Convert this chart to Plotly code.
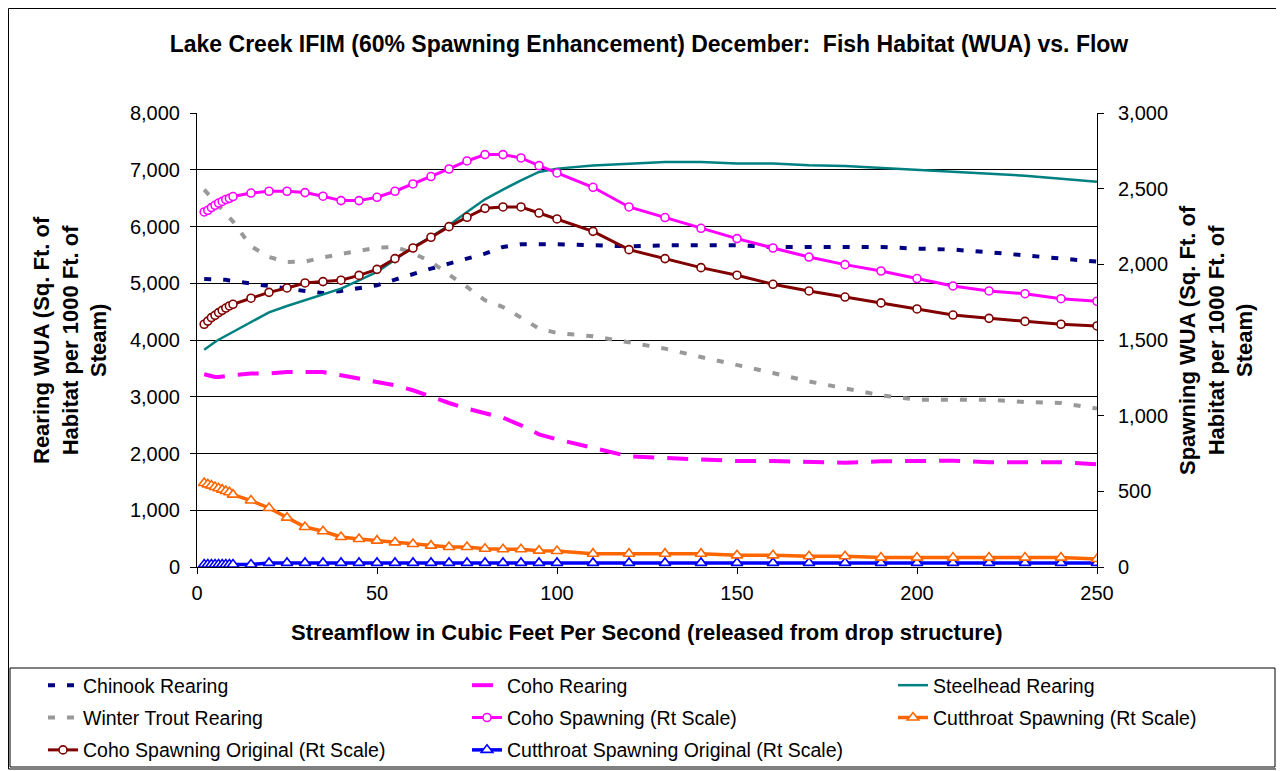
import plotly.graph_objects as go

# streamflow (cfs) at which WUA was computed
flows = [2, 3, 4, 5, 6, 7, 8, 9, 10, 15, 20, 25, 30, 35, 40, 45, 50, 55, 60, 65, 70,
         75, 80, 85, 90, 95, 100, 110, 120, 130, 140, 150, 160, 170, 180, 190, 200,
         210, 220, 230, 240, 250]

# rearing WUA (left scale)
chinook_rearing = [5075, 5075, 5075, 5075, 5070, 5065, 5060, 5050, 5040, 4993, 4952, 4905,
                   4864, 4828, 4864, 4905, 4963, 5064, 5170, 5258, 5346, 5434, 5522, 5639,
                   5687, 5687, 5687, 5669, 5651, 5669, 5669, 5669, 5639, 5639, 5639, 5639,
                   5610, 5593, 5546, 5493, 5446, 5381]
coho_rearing = [3396, 3380, 3360, 3348, 3350, 3360, 3370, 3375, 3378, 3408, 3408, 3436,
                3442, 3436, 3378, 3320, 3260, 3202, 3114, 2996, 2890, 2791, 2703, 2630,
                2497, 2338, 2250, 2104, 1950, 1921, 1903, 1868, 1868, 1850, 1839, 1862,
                1874, 1874, 1845, 1845, 1845, 1810]
steelhead_rearing = [3830, 3880, 3925, 3965, 4005, 4040, 4075, 4105, 4135, 4320, 4488, 4600,
                     4700, 4800, 4905, 5052, 5198, 5416, 5639, 5815, 6021, 6256, 6479, 6650,
                     6814, 6961, 7020, 7073, 7108, 7137, 7137, 7108, 7108, 7079, 7066, 7031,
                     7002, 6972, 6925, 6896, 6843, 6790]
winter_trout_rearing = [6650, 6580, 6509, 6439, 6368, 6298, 6227, 6157, 6086, 5651, 5463, 5375,
                        5381, 5457, 5510, 5568, 5628, 5639, 5533, 5375, 5158, 4934, 4700, 4581,
                        4394, 4201, 4124, 4065, 3960, 3848, 3700, 3566, 3419, 3270, 3143, 3026,
                        2949, 2949, 2949, 2908, 2890, 2791]

# spawning WUA (right scale)
coho_spawning = [2346, 2357, 2375, 2390, 2405, 2416, 2428, 2436, 2448, 2471, 2483, 2483,
                 2474, 2450, 2421, 2421, 2443, 2483, 2531, 2580, 2630, 2683, 2725, 2725,
                 2703, 2652, 2604, 2509, 2379, 2309, 2238, 2170, 2108, 2048, 1998, 1956,
                 1906, 1857, 1824, 1806, 1773, 1756]
cutthroat_spawning = [555, 546, 538, 529, 520, 511, 502, 494, 478, 439, 390, 326, 264, 236,
                      198, 185, 174, 163, 152, 141, 132, 132, 121, 117, 117, 108, 106, 88,
                      88, 88, 88, 77, 77, 71, 71, 62, 62, 62, 62, 62, 62, 53]
coho_spawning_orig = [1604, 1625, 1648, 1663, 1681, 1696, 1711, 1725, 1736, 1776, 1815, 1844,
                      1877, 1886, 1895, 1927, 1967, 2038, 2108, 2179, 2249, 2311, 2370, 2379,
                      2379, 2339, 2300, 2218, 2097, 2038, 1978, 1928, 1868, 1824, 1784, 1745,
                      1705, 1665, 1643, 1623, 1604, 1593]
cutthroat_spawning_orig = [16, 16, 16, 16, 16, 16, 16, 16, 16, 16, 27, 27, 27, 27, 27, 27,
                           27, 27, 27, 27, 27, 27, 27, 27, 27, 27, 27, 27, 27, 27, 27, 27,
                           27, 27, 27, 27, 27, 27, 27, 27, 27, 27]

FONT = "Arial, Liberation Sans, sans-serif"

fig = go.Figure()


def add_line(name, y, color, legend, yaxis="y", width=3, dash="solid", symbol=None, msize=7):
    mode = "lines+markers" if symbol else "lines"
    fig.add_trace(go.Scatter(
        x=flows, y=y, name=name, mode=mode, yaxis=yaxis,
        line=dict(color=color, width=width, dash=dash),
        marker=dict(symbol=symbol, size=msize, color="white",
                    line=dict(color=color, width=1.6)) if symbol else None,
        legend=legend, legendgroup=name,
    ))


add_line("Chinook Rearing", chinook_rearing, "#000080", "legend", width=4, dash="7px,12px")
add_line("Winter Trout Rearing", winter_trout_rearing, "#999999", "legend", width=4, dash="7px,12px")
add_line("Coho Rearing", coho_rearing, "#FF00FF", "legend2", width=4, dash="21px,13px")
add_line("Steelhead Rearing", steelhead_rearing, "#008080", "legend3", width=2.5)
add_line("Coho Spawning Original (Rt Scale)", coho_spawning_orig, "#800000", "legend",
         yaxis="y2", width=3, symbol="circle", msize=8)
add_line("Coho Spawning (Rt Scale)", coho_spawning, "#FF00FF", "legend2",
         yaxis="y2", width=3, symbol="circle", msize=8)
add_line("Cutthroat Spawning Original (Rt Scale)", cutthroat_spawning_orig, "#0000FF", "legend2",
         yaxis="y2", width=3.5, symbol="triangle-up", msize=10)
add_line("Cutthroat Spawning (Rt Scale)", cutthroat_spawning, "#FF6600", "legend3",
         yaxis="y2", width=3.5, symbol="triangle-up", msize=10)

# legend order inside each column
order = {"Chinook Rearing": 1, "Winter Trout Rearing": 2, "Coho Spawning Original (Rt Scale)": 3,
         "Coho Rearing": 1, "Coho Spawning (Rt Scale)": 2, "Cutthroat Spawning Original (Rt Scale)": 3,
         "Steelhead Rearing": 1, "Cutthroat Spawning (Rt Scale)": 2}
for tr in fig.data:
    tr.legendrank = order[tr.name]

# the page body adds an 8px margin, so the figure is drawn 8px smaller and
# every target position below is given in screen pixels
OFF = 8
FIG_W, FIG_H = 1284 - OFF, 771 - OFF
# plot area on screen: x 197..1097, y 113..567
L, R, T, B = 197, 1097, 113, 567
W, H = R - L, B - T


def px(x):
    return (x - L) / W


def py(y):
    return (B - y) / H


legend_common = dict(
    orientation="v", yanchor="top", xanchor="left", bgcolor="rgba(0,0,0,0)",
    borderwidth=0, font=dict(family=FONT, size=19.5, color="black"),
    tracegroupgap=4, traceorder="grouped",
)

axis_font = dict(family=FONT, size=20, color="black")
title_font = dict(family=FONT, size=22, color="black")

fig.update_layout(
    width=FIG_W, height=FIG_H,
    paper_bgcolor="white", plot_bgcolor="white",
    margin=dict(l=L - OFF, r=FIG_W - (R - OFF), t=T - OFF, b=FIG_H - (B - OFF),
                pad=0, autoexpand=False),
    showlegend=True,
    title=dict(
        text="<b>Lake Creek IFIM (60% Spawning Enhancement) December:  Fish Habitat (WUA) vs. Flow</b>",
        x=px(649), xref="paper", xanchor="center", y=1 - (44 - OFF) / FIG_H, yanchor="middle",
        font=dict(family=FONT, size=23, color="black"),
    ),
    xaxis=dict(
        range=[0, 250], dtick=50, showgrid=False, zeroline=False,
        showline=True, linecolor="black", linewidth=1,
        ticks="outside", ticklen=6, tickcolor="black", tickfont=axis_font,
        ticklabelstandoff=2,
    ),
    yaxis=dict(
        range=[0, 8000], dtick=1000, tickformat=",", showgrid=True,
        gridcolor="black", gridwidth=1, zeroline=False,
        showline=True, linecolor="black", linewidth=1,
        ticks="outside", ticklen=6, tickcolor="black", tickfont=axis_font,
        ticklabelstandoff=6,
    ),
    yaxis2=dict(
        range=[0, 3000], dtick=500, tickformat=",", overlaying="y", side="right",
        showgrid=False, zeroline=False, showline=True, linecolor="black", linewidth=1,
        ticks="outside", ticklen=6, tickcolor="black", tickfont=axis_font,
        ticklabelstandoff=10,
    ),
    legend=dict(x=px(83 - 40), y=py(666), **legend_common),
    legend2=dict(x=px(507 - 40), y=py(666), **legend_common),
    legend3=dict(x=px(933 - 40), y=py(666), **legend_common),
    annotations=[
        dict(text="<b>Rearing WUA (Sq. Ft. of<br>Habitat per 1000 Ft. of<br>Steam)</b>",
             xref="paper", yref="paper", x=px(70), y=0.5, textangle=-90,
             xanchor="center", yanchor="middle", showarrow=False, font=title_font),
        dict(text="<b>Spawning WUA (Sq. Ft. of<br>Habitat per 1000 Ft. of<br>Steam)</b>",
             xref="paper", yref="paper", x=px(1216), y=0.5, textangle=-90,
             xanchor="center", yanchor="middle", showarrow=False, font=title_font),
        dict(text="<b>Streamflow in Cubic Feet Per Second (released from drop structure)</b>",
             xref="paper", yref="paper", x=px(647), y=py(632),
             xanchor="center", yanchor="middle", showarrow=False, font=title_font),
    ],
    shapes=[
        dict(type="rect", xref="paper", yref="paper", x0=px(OFF + 0.5), x1=px(1278),
             y0=py(769), y1=py(OFF + 0.5), line=dict(color="black", width=1), layer="below"),
        dict(type="rect", xref="paper", yref="paper", x0=px(10), x1=px(1275),
             y0=py(767), y1=py(668), line=dict(color="black", width=1), layer="below"),
    ],
)

fig.write_html("out.html")
